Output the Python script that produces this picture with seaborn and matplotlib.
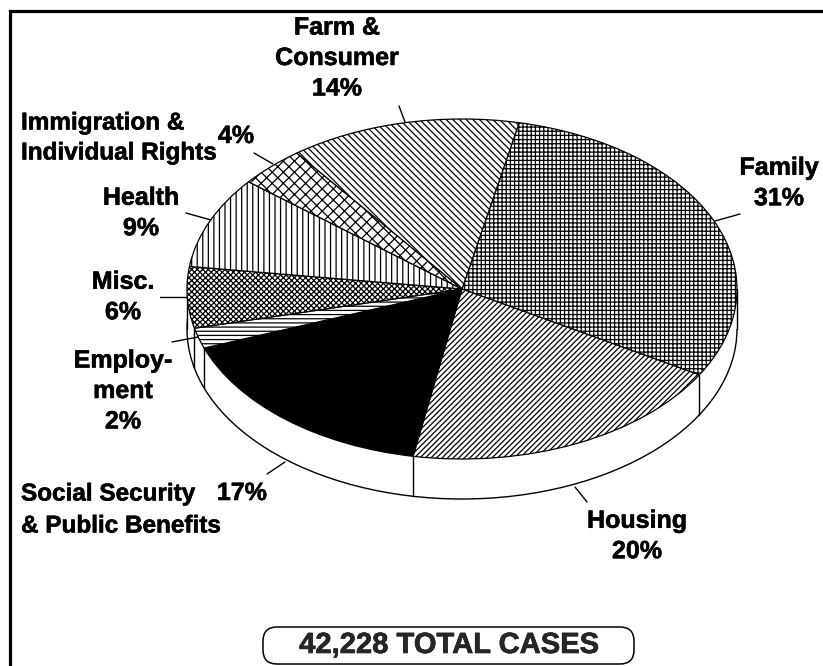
import matplotlib
matplotlib.use("Agg")
from matplotlib import pyplot as plt
from matplotlib import patheffects
from matplotlib.patches import FancyBboxPatch, Rectangle
import numpy as np
import seaborn as sns

labels = ["Family", "Housing", "Social Security", "Employment", "Misc.", "Health", "Immigration", "Farm"]
shares = [31, 20, 17, 2, 6, 9, 4, 14]
hatches = ["++++", "//////", "", "----", "xxxxxx", "|||", "xxx", "\\\\\\\\\\"]
slice_colors = ["white", "white", "black", "white", "white", "white", "white", "white"]

sns.set_theme(style="white")
plt.rcParams["font.family"] = ["Liberation Sans", "DejaVu Sans"]
plt.rcParams["hatch.linewidth"] = 0.9

W, H = 823, 666
fig = plt.figure(figsize=(W / 100, H / 100), dpi=100)

bg = fig.add_axes([0, 0, 1, 1], zorder=0)
bg.set_xlim(0, W)
bg.set_ylim(H, 0)
bg.axis("off")
# frame: top and left only, the rest falls outside the page
bg.plot([W, 10.5, 10.5], [10.7, 10.7, H], color="black", lw=2.3, solid_joinstyle="miter")

cx, cy, rx, ry = 462, 289, 275, 170
depth = 40

# top of the pie
top = fig.add_axes([(cx - rx) / W, 1 - (cy + ry) / H, 2 * rx / W, 2 * ry / H], zorder=2)
wedges, _ = top.pie(shares, radius=1, startangle=78, counterclock=False,
                    colors=slice_colors, wedgeprops=dict(ec="black", lw=0.9))
for w, h in zip(wedges, hatches):
    w.set_hatch(h)
top.set_aspect("auto")
top.set_xlim(-1, 1)
top.set_ylim(-1, 1)
top.patch.set_alpha(0)

# side wall, same ellipse moved down
wall = fig.add_axes([(cx - rx) / W, 1 - (cy + depth + ry) / H, 2 * rx / W, 2 * ry / H], zorder=1)
wall.pie([1], radius=1, colors=["white"], wedgeprops=dict(ec="black", lw=1))
wall.set_aspect("auto")
wall.set_xlim(-1, 1)
wall.set_ylim(-1, 1)
wall.patch.set_alpha(0)
d = depth / ry
wall.add_patch(Rectangle((-1, 0), 2, d, fc="white", ec="none", clip_on=False, zorder=3))
wall.plot([-1, -1], [0, d], color="black", lw=1, clip_on=False, zorder=4)
wall.plot([1, 1], [0, d], color="black", lw=1, clip_on=False, zorder=4)
for w in wedges:
    t = np.deg2rad(w.theta2)
    if np.sin(t) < 0:
        wall.plot([np.cos(t)] * 2, [np.sin(t), np.sin(t) + d], color="black", lw=1, zorder=4)

txt = fig.add_axes([0, 0, 1, 1], zorder=3)
txt.set_xlim(0, W)
txt.set_ylim(H, 0)
txt.axis("off")

thick = [patheffects.withStroke(linewidth=0.4, foreground="black")]
text_kw = dict(va="center", fontsize=18, fontweight="bold", linespacing=1.34, color="black",
               path_effects=thick)
centered = [("Family\n31%", 779, 183), ("Housing\n20%", 637, 536), ("17%", 242, 493),
            ("Employ-\nment\n2%", 123, 391), ("Misc.\n6%", 123, 297), ("Health\n9%", 141, 213),
            ("4%", 236, 136), ("Farm &\nConsumer\n14%", 337, 58)]
for s, x, y in centered:
    txt.text(x, y, s, ha="center", **text_kw)

left_kw = dict(text_kw, fontsize=17.5)
left_lines = [("Immigration &", 123), ("Individual Rights", 153),
              ("Social Security", 494), ("& Public Benefits", 526)]
for s, y in left_lines:
    txt.text(21, y, s, ha="left", **left_kw)

leaders = [((715, 221), (740, 214)), ((575, 487), (587, 502)), ((285, 462), (267, 474)),
           ((172, 342), (198, 337)), ((160, 297), (187, 297)), ((186, 213), (211, 220)),
           ((254, 153), (273, 164)), ((399, 106), (405, 122))]
for (x0, y0), (x1, y1) in leaders:
    txt.plot([x0, x1], [y0, y1], color="black", lw=1)

txt.add_patch(FancyBboxPatch((263, 627), 371, 37, boxstyle="round,pad=0,rounding_size=14",
                             fc="white", ec="black", lw=1.1, clip_on=False))
txt.text(449, 645, "42,228 TOTAL CASES", ha="center", va="center", fontsize=21, fontweight="bold",
         path_effects=thick)

fig.savefig("out.png", dpi=100, facecolor="white")
